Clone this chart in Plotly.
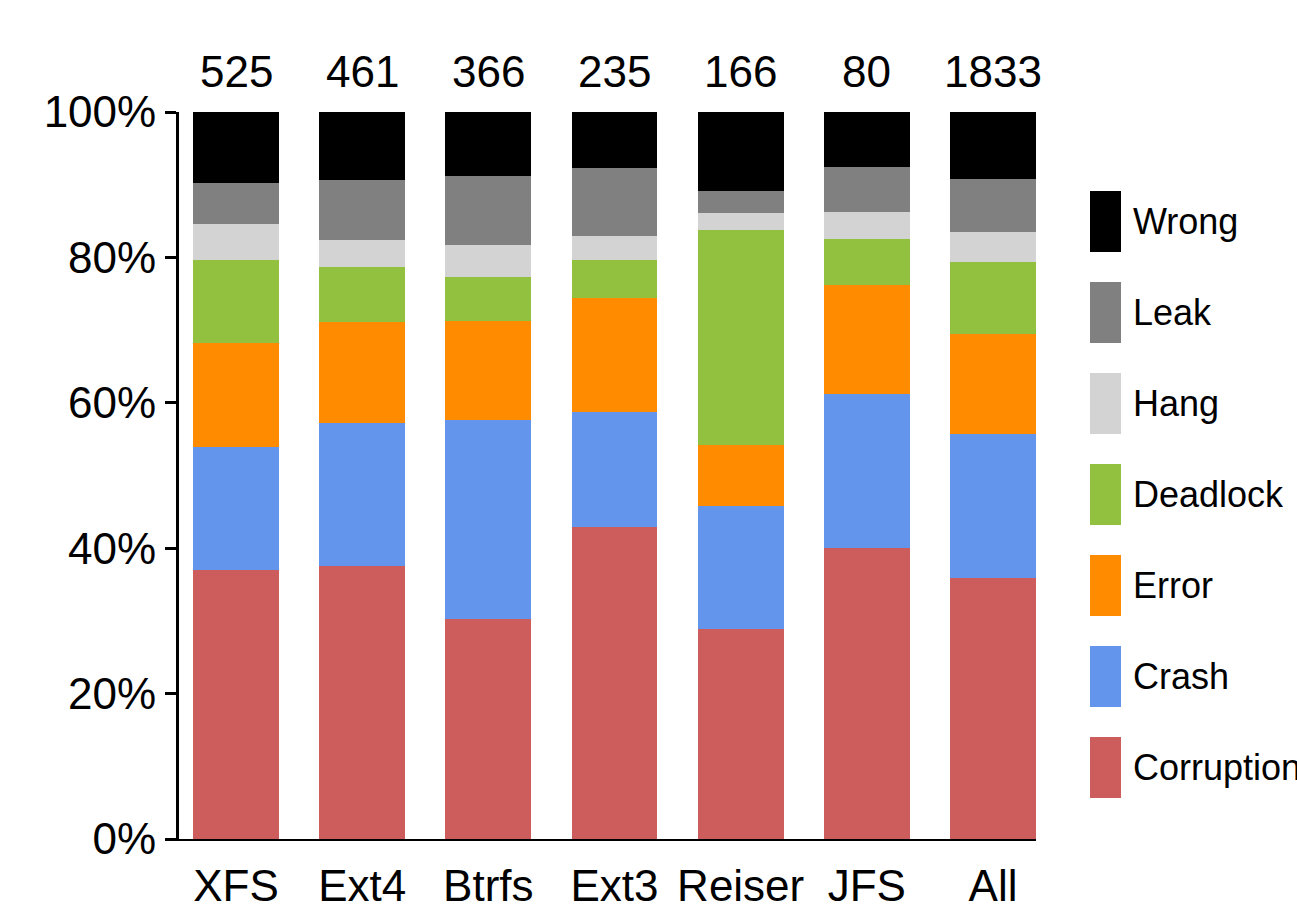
import plotly.graph_objects as go

# File systems along the x axis ("All" is the combined column)
filesystems = ["XFS", "Ext4", "Btrfs", "Ext3", "Reiser", "JFS", "All"]

# Bug counts per failure consequence, bottom of each stack first
corruption = [194, 173, 111, 101, 48, 32, 659]
crash = [89, 91, 100, 37, 28, 17, 362]
error = [75, 64, 50, 37, 14, 12, 252]
deadlock = [60, 35, 22, 12, 49, 5, 183]
hang = [26, 17, 16, 8, 4, 3, 74]
leak = [30, 38, 35, 22, 5, 5, 135]
wrong = [51, 43, 32, 18, 18, 6, 168]

y_tick_values = [0, 20, 40, 60, 80, 100]
y_tick_labels = ["0%", "20%", "40%", "60%", "80%", "100%"]

series = [
    ("Corruption", corruption, "#CD5C5C"),
    ("Crash", crash, "#6495ED"),
    ("Error", error, "#FF8C00"),
    ("Deadlock", deadlock, "#92C03F"),
    ("Hang", hang, "#D3D3D3"),
    ("Leak", leak, "#808080"),
    ("Wrong", wrong, "#000000"),
]

totals = [sum(s[1][i] for s in series) for i in range(len(filesystems))]

FONT = "Liberation Sans, Arial, Helvetica, sans-serif"
W, H = 1297, 906
PLOT_L, PLOT_R, PLOT_T, PLOT_B = 179, 1036, 112, 839


def px_to_paper_x(px):
    return (px - PLOT_L) / (PLOT_R - PLOT_L)


def px_to_paper_y(py):
    return (PLOT_B - py) / (PLOT_B - PLOT_T)


fig = go.Figure()
for name, counts, color in series:
    fig.add_trace(go.Bar(
        x=filesystems,
        y=[c / t * 100 for c, t in zip(counts, totals)],
        name=name,
        marker=dict(color=color, line=dict(width=0)),
        width=0.68,
        showlegend=False,
        hoverinfo="skip",
    ))

# bug totals above each column
annotations = []
for fs, t in zip(filesystems, totals):
    annotations.append(dict(
        x=fs, y=px_to_paper_y(71), xref="x", yref="paper",
        text=str(t), showarrow=False, yanchor="middle", xanchor="center",
        font=dict(family=FONT, size=44, color="black"),
    ))

# tall swatch legend on the right, top entry is the top of the stack
shapes = []
swatch_top = 191
for k, (name, counts, color) in enumerate(reversed(series)):
    top = swatch_top + 91 * k
    bottom = top + 61
    shapes.append(dict(
        type="rect", xref="paper", yref="paper",
        x0=px_to_paper_x(1090), x1=px_to_paper_x(1121),
        y0=px_to_paper_y(bottom), y1=px_to_paper_y(top),
        fillcolor=color, line=dict(width=0), layer="above",
    ))
    annotations.append(dict(
        x=px_to_paper_x(1131), y=px_to_paper_y((top + bottom) / 2),
        xref="paper", yref="paper", text=name, showarrow=False,
        xanchor="left", yanchor="middle",
        font=dict(family=FONT, size=36, color="black"),
    ))

fig.update_layout(
    barmode="stack",
    width=W, height=H,
    margin=dict(l=PLOT_L, r=W - PLOT_R, t=PLOT_T, b=H - PLOT_B, pad=0),
    paper_bgcolor="white", plot_bgcolor="white",
    font=dict(family=FONT, size=44, color="black"),
    annotations=annotations,
    shapes=shapes,
)
fig.update_xaxes(
    type="category",
    range=[(PLOT_L - 236) / 126.17, (PLOT_R - 236) / 126.17],
    showline=True, linecolor="black", linewidth=2,
    ticks="", showgrid=False, zeroline=False,
    tickfont=dict(family=FONT, size=44, color="black"),
    ticklabelstandoff=7,
    layer="below traces",
    automargin=False,
)
fig.update_yaxes(
    range=[0, 100],
    tickvals=y_tick_values, ticktext=y_tick_labels,
    showline=True, linecolor="black", linewidth=3,
    ticks="outside", ticklen=11, tickwidth=3, tickcolor="black",
    showgrid=False, zeroline=False,
    tickfont=dict(family=FONT, size=44, color="black"),
    automargin=False,
)

fig.write_html("out.html")
